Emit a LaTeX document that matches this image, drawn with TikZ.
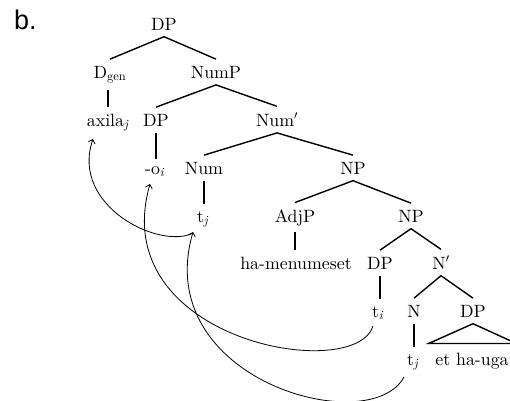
\documentclass[tikz,border=0pt]{standalone}
\usepackage{fontspec}
\setmainfont{lmroman10-regular.otf}[ItalicFont=lmroman10-italic.otf]
\newfontfamily\labfont{Liberation Sans}
\usetikzlibrary{arrows.meta}
\tikzset{
  tn/.style={anchor=base, inner xsep=1pt, inner ysep=6.5pt, font=\fontsize{17.8}{20}\selectfont},
  edge/.style={line width=1.4pt},
  mv/.style={line width=0.8pt, -{Straight Barb[length=3.5pt,width=7pt]}},
}
\begin{document}
\begin{tikzpicture}[x=1pt,y=-1pt]
\useasboundingbox (0,0) rectangle (510,400);
\node[anchor=base west, inner sep=0pt, font=\labfont\fontsize{27}{30}\selectfont] (lab) at (14,29) {b.};
\node[tn] (dp0) at (164,30) {DP};
\node[tn] (dgen) at (110,78) {D\textsubscript{gen}};
\node[tn] (nump) at (216,78) {NumP};
\node[tn] (axila) at (108,126) {axila\textsubscript{\textit{j}}};
\node[tn] (dp1) at (156,126) {DP};
\node[tn] (numbar) at (277,126) {Num$'$};
\node[tn] (oi) at (155,174) {-o\textsubscript{\textit{i}}};
\node[tn] (num) at (204,174) {Num};
\node[tn] (np1) at (353,174) {NP};
\node[tn] (tj1) at (203,222) {t\textsubscript{\textit{j}}};
\node[tn] (adjp) at (295,222) {AdjP};
\node[tn] (np2) at (411,222) {NP};
\node[tn] (hamen) at (296,269) {ha-menumeset};
\node[tn] (dp2) at (380,269) {DP};
\node[tn] (nbar) at (441,269) {N$'$};
\node[tn] (ti) at (378,317) {t\textsubscript{\textit{i}}};
\node[tn] (n) at (414,317) {N};
\node[tn] (dp3) at (473,317) {DP};
\node[tn] (tj2) at (413,365) {t\textsubscript{\textit{j}}};
\node[tn] (etha) at (472,365) {et ha-uga};
% tree edges
\draw[edge] (dp0.south) -- (dgen.north);
\draw[edge] (dp0.south) -- (nump.north);
\draw[edge] (axila.north |- dgen.south) -- (axila.north);
\draw[edge] (nump.south) -- (dp1.north);
\draw[edge] (nump.south) -- (numbar.north);
\draw[edge] (dp1.south) -- (dp1.south |- oi.north);
\draw[edge] (numbar.south) -- (num.north);
\draw[edge] (numbar.south) -- (np1.north);
\draw[edge] (num.south) -- (num.south |- tj1.north);
\draw[edge] (np1.south) -- (adjp.north);
\draw[edge] (np1.south) -- (np2.north);
\draw[edge] (adjp.south) -- (adjp.south |- hamen.north);
\draw[edge] (np2.south) -- (dp2.north);
\draw[edge] (np2.south) -- (nbar.north);
\draw[edge] (dp2.south) -- (dp2.south |- ti.north);
\draw[edge] (nbar.south) -- (n.north);
\draw[edge] (nbar.south) -- (dp3.north);
\draw[edge] (n.south) -- (n.south |- tj2.north);
\draw[edge] (dp3.south) -- ([xshift=-5.5pt,yshift=2.5pt]etha.north west) -- ([xshift=6.5pt,yshift=2.5pt]etha.north east) -- cycle;
% movement arrows
\draw[mv] ([xshift=-5pt,yshift=-9pt]ti.base) .. controls +(-18,58) and +(-45,157) .. ([xshift=-5pt,yshift=-10pt]oi.base);
\draw[mv] ([xshift=-9pt,yshift=-12pt]tj2.base) .. controls +(-34,63) and +(-43,148) .. ([xshift=-10pt,yshift=-10pt]tj1.base);
\draw[mv] ([xshift=-10pt,yshift=-11pt]tj1.base) .. controls +(-33,17) and +(-23,67) .. ([xshift=-15pt,yshift=-13pt]axila.base);
\end{tikzpicture}
\end{document}
